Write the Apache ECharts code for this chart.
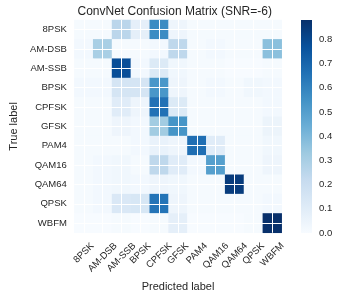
<!DOCTYPE html>
<html>
<head>
<meta charset="utf-8">
<script src="https://cdn.jsdelivr.net/npm/echarts@6/dist/echarts.min.js"></script>
<style>html,body{margin:0;padding:0;background:#fff;}#c{width:339px;height:297px;}</style>
</head>
<body>
<div id="c"></div>
<script>
// ---- data ----
const classes = ['8PSK','AM-DSB','AM-SSB','BPSK','CPFSK','GFSK','PAM4','QAM16','QAM64','QPSK','WBFM'];
const row_8PSK  = [0.01, 0.01, 0.25, 0.08, 0.57, 0.04, 0.01, 0.01, 0.01, 0.01, 0.01];
const row_AMDSB = [0.02, 0.30, 0.01, 0.01, 0.02, 0.24, 0.01, 0.02, 0.01, 0.01, 0.37];
const row_AMSSB = [0.01, 0.01, 0.78, 0.02, 0.12, 0.03, 0.01, 0.01, 0.00, 0.00, 0.01];
const row_BPSK  = [0.02, 0.02, 0.15, 0.15, 0.53, 0.04, 0.01, 0.02, 0.01, 0.03, 0.02];
const row_CPFSK = [0.01, 0.01, 0.10, 0.04, 0.66, 0.12, 0.01, 0.01, 0.01, 0.01, 0.02];
const row_GFSK  = [0.01, 0.01, 0.04, 0.02, 0.32, 0.54, 0.01, 0.01, 0.01, 0.01, 0.05];
const row_PAM4  = [0.01, 0.01, 0.01, 0.02, 0.06, 0.04, 0.67, 0.10, 0.01, 0.01, 0.03];
const row_QAM16 = [0.01, 0.02, 0.03, 0.01, 0.24, 0.10, 0.02, 0.50, 0.01, 0.01, 0.04];
const row_QAM64 = [0.01, 0.02, 0.03, 0.02, 0.04, 0.03, 0.01, 0.01, 0.84, 0.01, 0.01];
const row_QPSK  = [0.01, 0.02, 0.13, 0.14, 0.65, 0.04, 0.01, 0.01, 0.01, 0.01, 0.02];
const row_WBFM  = [0.00, 0.00, 0.01, 0.00, 0.01, 0.08, 0.00, 0.00, 0.00, 0.01, 0.88];
const colorbarTicks = [0.0, 0.1, 0.2, 0.3, 0.4, 0.5, 0.6, 0.7, 0.8];

const rows = [row_8PSK,row_AMDSB,row_AMSSB,row_BPSK,row_CPFSK,row_GFSK,row_PAM4,row_QAM16,row_QAM64,row_QPSK,row_WBFM];
const heat = [];
rows.forEach((r, i) => r.forEach((v, j) => heat.push([j, i, v])));
const VMAX = Math.max(...rows.map(r => Math.max(...r)));

const blues = ['#f7fbff','#deebf7','#c6dbef','#9ecae1','#6baed6','#4292c6','#2171b5','#08519c','#08306b'];
const FONT = '"Liberation Sans", Arial, sans-serif';
const TXT = '#262626';
const TICK_FS = 9.5;

// per-label padding: keeps each rotated label's bounding box centred on its tick, tops aligned
const cv = document.createElement('canvas').getContext('2d');
cv.font = TICK_FS + 'px ' + FONT;
const rich = {};
classes.forEach((c, i) => {
  const w = cv.measureText(c).width;
  const p = 0.5 * (w + TICK_FS * 1.05);
  rich['l' + i] = { padding: [p, p, 0, 0], fontSize: TICK_FS, fontFamily: FONT, color: TXT };
});

const chart = echarts.init(document.getElementById('c'), null, {renderer: 'canvas', width: 339, height: 297});
const G = {left: 67.7, top: 20, width: 214, height: 213.4};
chart.setOption({
  animation: false,
  backgroundColor: '#fff',
  title: {
    text: 'ConvNet Confusion Matrix (SNR=-6)',
    left: G.left + G.width / 2, top: 6, padding: 0, textAlign: 'center',
    textStyle: {fontSize: 12, fontWeight: 'normal', color: TXT, fontFamily: FONT}
  },
  grid: [
    {left: G.left, top: G.top, width: G.width, height: G.height},
    {left: 301, top: 20, width: 11, height: 213}
  ],
  xAxis: [
    {
      type: 'category', data: classes, gridIndex: 0,
      name: 'Predicted label', nameLocation: 'middle', nameGap: 45,
      nameTextStyle: {fontSize: 11, color: TXT, fontFamily: FONT},
      axisLine: {show: false}, axisTick: {show: false}, splitLine: {show: false},
      axisLabel: {
        interval: 0, rotate: 45, align: 'center', verticalAlign: 'middle', margin: 8,
        formatter: (v, i) => '{l' + i + '|' + v + '}', rich: rich,
        fontSize: TICK_FS, color: TXT, fontFamily: FONT
      }
    },
    {type: 'category', data: [''], gridIndex: 1, show: false}
  ],
  yAxis: [
    {
      type: 'category', data: classes, inverse: true, gridIndex: 0,
      name: 'True label', nameLocation: 'middle', nameGap: 52,
      nameTextStyle: {fontSize: 11, color: TXT, fontFamily: FONT},
      axisLine: {show: false}, axisTick: {show: false}, splitLine: {show: false},
      axisLabel: {interval: 0, margin: 7.5, fontSize: TICK_FS, color: TXT, fontFamily: FONT}
    },
    {
      type: 'value', gridIndex: 1, position: 'right', min: 0, max: VMAX, interval: 0.1,
      axisLine: {show: false}, axisTick: {show: false}, splitLine: {show: false},
      axisLabel: {
        margin: 7, fontSize: TICK_FS, color: TXT, fontFamily: FONT, showMaxLabel: false,
        formatter: v => colorbarTicks.some(t => Math.abs(t - v) < 1e-6) ? v.toFixed(1) : ''
      }
    }
  ],
  visualMap: {
    type: 'continuous', show: false, min: 0, max: VMAX, seriesIndex: 0, dimension: 2,
    inRange: {color: blues}
  },
  series: [
    {
      type: 'heatmap', data: heat, xAxisIndex: 0, yAxisIndex: 0,
      emphasis: {disabled: true}, silent: true,
      markLine: {
        silent: true, symbol: 'none', animation: false,
        label: {show: false},
        lineStyle: {color: '#ffffff', width: 1, type: 'solid', opacity: 1},
        emphasis: {disabled: true},
        data: classes.map(c => ({xAxis: c})).concat(classes.map(c => ({yAxis: c})))
      }
    },
    {
      type: 'bar', xAxisIndex: 1, yAxisIndex: 1, data: [VMAX], barWidth: '100%', silent: true,
      itemStyle: {
        color: new echarts.graphic.LinearGradient(0, 1, 0, 0,
          blues.map((c, i) => ({offset: i / (blues.length - 1), color: c})))
      }
    }
  ]
});
</script>
</body>
</html>
